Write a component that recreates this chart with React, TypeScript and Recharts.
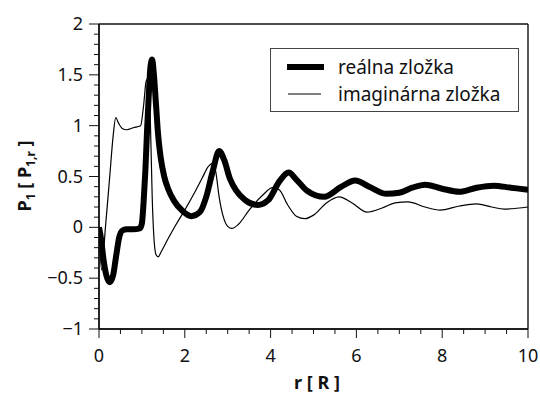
import { LineChart, Line, XAxis, YAxis, CartesianGrid } from 'recharts'

// real part, sampled at its own r positions
const realR = [0, 0.05, 0.1, 0.17, 0.25, 0.33, 0.4, 0.47, 0.55, 0.65, 0.8, 0.95, 1.0, 1.04, 1.08, 1.12, 1.16, 1.2, 1.24, 1.28, 1.33, 1.38, 1.44, 1.52, 1.62, 1.75, 1.95, 2.15, 2.35, 2.5, 2.65, 2.8, 2.92, 3.05, 3.2, 3.4, 3.7, 3.95, 4.2, 4.42, 4.6, 4.85, 5.25, 5.65, 5.97, 6.3, 6.7, 7.0, 7.3, 7.6, 8.0, 8.4, 8.8, 9.2, 9.6, 10]
const realP = [0, -0.12, -0.3, -0.47, -0.54, -0.47, -0.28, -0.1, -0.03, -0.02, -0.02, -0.01, 0.04, 0.25, 0.55, 0.95, 1.3, 1.58, 1.65, 1.5, 1.2, 0.9, 0.68, 0.5, 0.37, 0.26, 0.16, 0.11, 0.15, 0.3, 0.55, 0.75, 0.66, 0.48, 0.36, 0.27, 0.22, 0.27, 0.45, 0.54, 0.47, 0.36, 0.3, 0.4, 0.46, 0.4, 0.33, 0.34, 0.39, 0.42, 0.38, 0.35, 0.39, 0.41, 0.39, 0.37]

// imaginary part
const imagR = [0, 0.06, 0.15, 0.25, 0.33, 0.39, 0.45, 0.55, 0.65, 0.8, 0.97, 1.04, 1.1, 1.16, 1.2, 1.24, 1.28, 1.33, 1.38, 1.45, 1.6, 1.8, 2.0, 2.2, 2.4, 2.55, 2.65, 2.72, 2.8, 2.9, 3.0, 3.1, 3.25, 3.5, 3.8, 4.05, 4.2, 4.4, 4.6, 4.8, 5.0, 5.3, 5.6, 5.9, 6.25, 6.6, 6.9, 7.2, 7.6, 7.95, 8.4, 8.8, 9.15, 9.45, 10]
const imagP = [0, -0.42, 0.0, 0.5, 0.9, 1.08, 1.03, 0.97, 0.96, 0.98, 1.0, 1.2, 1.44, 1.47, 1.0, 0.3, -0.1, -0.27, -0.29, -0.24, -0.12, 0.03, 0.17, 0.32, 0.48, 0.6, 0.63, 0.55, 0.3, 0.1, 0.01, -0.01, 0.03, 0.17, 0.31, 0.39, 0.37, 0.22, 0.11, 0.085, 0.12, 0.24, 0.3, 0.24, 0.15, 0.19, 0.24, 0.25, 0.2, 0.17, 0.21, 0.23, 0.2, 0.18, 0.2]

const seriesNames = ['reálna zložka', 'imaginárna zložka']
const xMajor = [0, 2, 4, 6, 8, 10]
const yMajor = [-1, -0.5, 0, 0.5, 1, 1.5, 2]

const realData = realR.map((r, i) => ({ r, v: realP[i] }))
const imagData = imagR.map((r, i) => ({ r, v: imagP[i] }))

// minor ticks: every 0.5 on r, every 0.1 on P
const xTicks = Array.from({ length: 21 }, (_, i) => i * 0.5)
const yTicks = Array.from({ length: 31 }, (_, i) => Math.round((i * 0.1 - 1) * 10) / 10)

const FONT = '"Noto Sans", sans-serif'
const INK = '#111'
const BOX = 1.4
const isXMajor = (v: number) => xMajor.includes(v)
const isYMajor = (v: number) => yMajor.includes(v)
const fmt = (v: number) => (v < 0 ? '\u2212' + Math.abs(v) : String(v))

// each axis draws its own side of the box from its first tick
function BottomTick({ x, y, width, index, payload }: any) {
  const major = isXMajor(payload.value)
  return (
    <g>
      {index === 0 && Number.isFinite(width) && <line x1={x} x2={x + width} y1={y} y2={y} stroke={INK} strokeWidth={BOX} />}
      <line x1={x} x2={x} y1={y} y2={y + (major ? 9 : 5)} stroke={INK} />
      {major && (
        <text x={x} y={y + 33} textAnchor="middle" fontFamily={FONT} fontSize={18} fill={INK}>
          {payload.value}
        </text>
      )}
    </g>
  )
}

function TopTick({ x, y, width, index, payload }: any) {
  const major = isXMajor(payload.value)
  return (
    <g>
      {index === 0 && Number.isFinite(width) && <line x1={x} x2={x + width} y1={y} y2={y} stroke={INK} strokeWidth={BOX} />}
      <line x1={x} x2={x} y1={y} y2={y - (major ? 9 : 5)} stroke={INK} />
    </g>
  )
}

function LeftTick({ x, y, height, index, payload }: any) {
  const major = isYMajor(payload.value)
  return (
    <g>
      {index === 0 && Number.isFinite(height) && <line x1={x} x2={x} y1={y} y2={y - height} stroke={INK} strokeWidth={BOX} />}
      <line x1={x} x2={x - (major ? 10 : 5)} y1={y} y2={y} stroke={INK} />
      {major && (
        <text x={x - 16} y={y + 6} textAnchor="end" fontFamily={FONT} fontSize={18} fill={INK}>
          {fmt(payload.value)}
        </text>
      )}
    </g>
  )
}

function RightTick({ x, y, height, index, payload }: any) {
  const major = isYMajor(payload.value)
  return (
    <g>
      {index === 0 && Number.isFinite(height) && <line x1={x} x2={x} y1={y} y2={y - height} stroke={INK} strokeWidth={BOX} />}
      <line x1={x} x2={x + (major ? 10 : 5)} y1={y} y2={y} stroke={INK} />
    </g>
  )
}

function LegendBox() {
  const row = { display: 'flex', alignItems: 'center', height: 27 }
  return (
    <div
      style={{
        position: 'absolute',
        left: 270,
        top: 48,
        width: 247,
        height: 58,
        border: '1px solid #444',
        background: '#fff',
        fontFamily: FONT,
        fontSize: 19,
        color: INK,
        padding: '4px 0 0 0',
      }}
    >
      <div style={row}>
        <svg width={67} height={10}>
          <line x1={16} x2={53} y1={5} y2={5} stroke="#000" strokeWidth={6} />
        </svg>
        <span>{seriesNames[0]}</span>
      </div>
      <div style={row}>
        <svg width={67} height={10}>
          <line x1={17} x2={50} y1={5} y2={5} stroke="#000" strokeWidth={1} />
        </svg>
        <span>{seriesNames[1]}</span>
      </div>
    </div>
  )
}

export default function App() {
  return (
    <div style={{ position: 'absolute', left: 0, top: 0, width: 540, height: 394, background: '#fff' }}>
      <LineChart width={540} height={394} margin={{ top: 0, right: 0, bottom: 0, left: 0 }}>
        {/* outer box only: grid lines on the plot edges */}
        <CartesianGrid
          xAxisId="b"
          yAxisId="l"
          stroke={INK}
          strokeWidth={BOX}
          horizontalCoordinatesGenerator={({ offset }: any) => [offset.top, offset.top + offset.height]}
          verticalCoordinatesGenerator={({ offset }: any) => [offset.left, offset.left + offset.width]}
        />
        <XAxis
          xAxisId="b"
          dataKey="r"
          type="number"
          domain={[0, 10]}
          ticks={xTicks}
          interval={0}
          height={65}
          tickSize={0}
          tickMargin={0}
          tickLine={false}
          axisLine={false}
          tick={<BottomTick />}
          allowDataOverflow
        />
        <XAxis
          xAxisId="t"
          orientation="top"
          dataKey="r"
          type="number"
          domain={[0, 10]}
          ticks={xTicks}
          interval={0}
          height={24}
          tickSize={0}
          tickMargin={0}
          tickLine={false}
          axisLine={false}
          tick={<TopTick />}
        />
        <YAxis
          yAxisId="l"
          type="number"
          domain={[-1, 2]}
          ticks={yTicks}
          interval={0}
          width={99}
          tickSize={0}
          tickMargin={0}
          tickLine={false}
          axisLine={false}
          tick={<LeftTick />}
          allowDataOverflow
        />
        <YAxis
          yAxisId="r"
          orientation="right"
          type="number"
          domain={[-1, 2]}
          ticks={yTicks}
          interval={0}
          width={12}
          tickSize={0}
          tickMargin={0}
          tickLine={false}
          axisLine={false}
          tick={<RightTick />}
        />
        <Line
          xAxisId="b"
          yAxisId="l"
          data={imagData}
          dataKey="v"
          name={seriesNames[1]}
          type="monotone"
          stroke="#000"
          strokeWidth={1.2}
          dot={false}
          isAnimationActive={false}
        />
        <Line
          xAxisId="b"
          yAxisId="l"
          data={realData}
          dataKey="v"
          name={seriesNames[0]}
          type="monotone"
          stroke="#000"
          strokeWidth={6}
          dot={false}
          isAnimationActive={false}
        />
        <text x={317} y={389} textAnchor="middle" fontFamily={FONT} fontSize={18} fontWeight="bold" fill={INK}>
          r [ R ]
        </text>
        <text
          x={0}
          y={0}
          transform="translate(31 176) rotate(-90)"
          textAnchor="middle"
          fontFamily={FONT}
          fontSize={18}
          fontWeight="bold"
          fill={INK}
        >
          P<tspan fontSize={12} dy={4}>1</tspan>
          <tspan dy={-4}> [ P</tspan>
          <tspan fontSize={12} dy={4}>1,r</tspan>
          <tspan dy={-4}> ]</tspan>
        </text>
      </LineChart>
      <LegendBox />
    </div>
  )
}
